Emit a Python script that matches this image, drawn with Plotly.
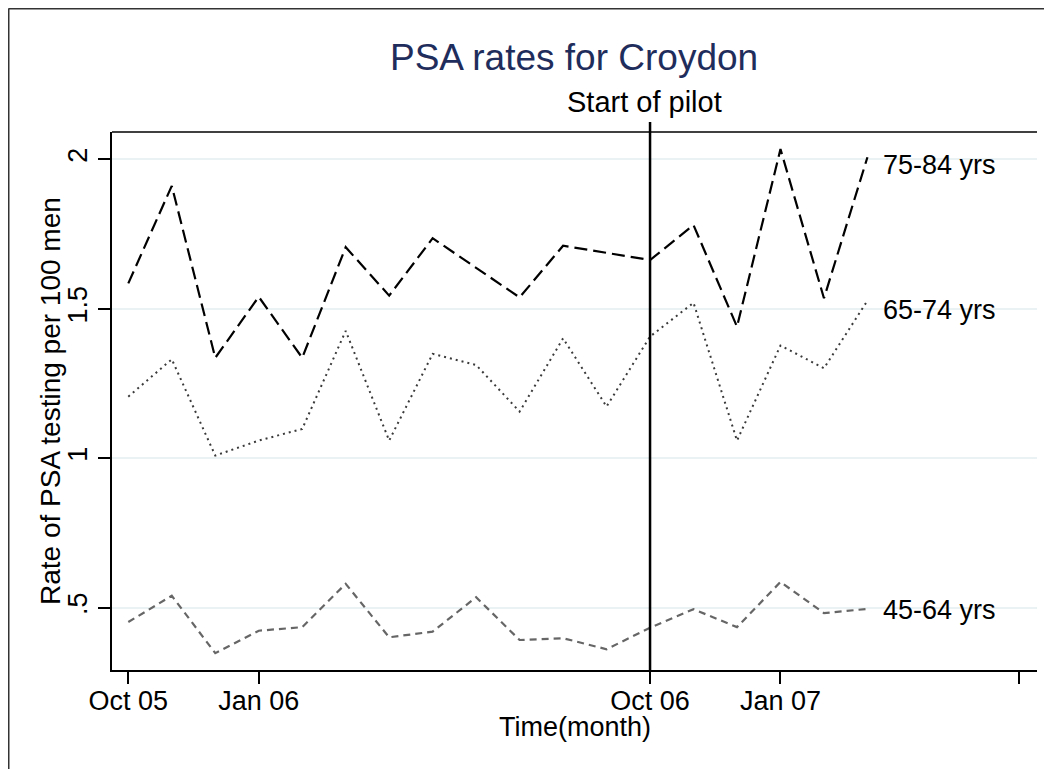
import plotly.graph_objects as go

month_labels = ["Oct 05", "Nov 05", "Dec 05", "Jan 06", "Feb 06", "Mar 06", "Apr 06", "May 06",
                "Jun 06", "Jul 06", "Aug 06", "Sep 06", "Oct 06", "Nov 06", "Dec 06", "Jan 07",
                "Feb 07", "Mar 07"]
r75_84 = [1.585, 1.911, 1.336, 1.540, 1.336, 1.706, 1.544, 1.736, 1.637, 1.538, 1.711, 1.687,
          1.663, 1.780, 1.440, 2.034, 1.535, 2.007]
r65_74 = [1.206, 1.331, 1.009, 1.059, 1.098, 1.426, 1.059, 1.349, 1.312, 1.156, 1.401, 1.173,
          1.407, 1.520, 1.059, 1.377, 1.301, 1.527]
r45_64 = [0.452, 0.540, 0.348, 0.423, 0.435, 0.580, 0.401, 0.420, 0.535, 0.392, 0.398, 0.361,
          0.433, 0.495, 0.435, 0.586, 0.482, 0.496]
series_names = ["75-84 yrs", "65-74 yrs", "45-64 yrs"]
x_tick_vals = [0, 3, 12, 15, 20.49]
x_tick_text = ["Oct 05", "Jan 06", "Oct 06", "Jan 07", ""]
y_tick_vals = [0.5, 1, 1.5, 2]
y_tick_text = [".5", "1", "1.5", "2"]
pilot_month = 12

x = list(range(len(month_labels)))
FONT = "Arial, Liberation Sans, sans-serif"

fig = go.Figure()
fig.add_trace(go.Scatter(x=x, y=r75_84, mode="lines", name=series_names[0],
                         line=dict(color="black", width=2.2, dash="13px,6px")))
fig.add_trace(go.Scatter(x=x, y=r65_74, mode="lines", name=series_names[1],
                         line=dict(color="#3a3a3a", width=2, dash="2px,4px")))
fig.add_trace(go.Scatter(x=x, y=r45_64, mode="lines", name=series_names[2],
                         line=dict(color="#666666", width=2.2, dash="7px,5px")))

# page is offset by the 8px body margin
OFF = 8
W, H = 1044, 761
L, R, T, B = 104, 15, 124, 99
pw, ph = W - L - R, H - T - B

def px2paper_x(px):
    return (px - OFF - L) / pw

def px2paper_y(py):
    return (H - B - (py - OFF)) / ph

shapes = [
    dict(type="line", xref="paper", yref="paper", x0=0, x1=1, y0=1, y1=1,
         line=dict(color="black", width=1.5)),
    dict(type="line", xref="x", yref="paper", x0=pilot_month, x1=pilot_month,
         y0=0, y1=px2paper_y(122), line=dict(color="black", width=2.5)),
    dict(type="line", xref="paper", yref="paper", x0=px2paper_x(8.5), x1=px2paper_x(1070),
         y0=px2paper_y(8.5), y1=px2paper_y(8.5), line=dict(color="#333333", width=2)),
    dict(type="line", xref="paper", yref="paper", x0=px2paper_x(8.5), x1=px2paper_x(8.5),
         y0=px2paper_y(8.5), y1=px2paper_y(790), line=dict(color="#333333", width=2)),
]

annotations = [
    dict(text="PSA rates for Croydon", xref="paper", yref="paper", x=px2paper_x(574),
         y=px2paper_y(58), showarrow=False, xanchor="center", yanchor="middle",
         font=dict(family=FONT, size=37, color="#1F2D5C")),
    dict(text="Start of pilot", xref="x", yref="paper", x=pilot_month, xshift=-6,
         y=px2paper_y(102), showarrow=False, xanchor="center", yanchor="middle",
         font=dict(family=FONT, size=29, color="black")),
    dict(text="Time(month)", xref="paper", yref="paper", x=0.5, y=px2paper_y(727),
         showarrow=False, xanchor="center", yanchor="middle",
         font=dict(family=FONT, size=27, color="black")),
    dict(text="Rate of PSA testing per 100 men", xref="paper", yref="paper",
         x=px2paper_x(50), y=0.5, textangle=-90, showarrow=False,
         xanchor="center", yanchor="middle", font=dict(family=FONT, size=28, color="black")),
]
label_y = [1.98, 1.497, 0.493]
for name, yv in zip(series_names, label_y):
    annotations.append(dict(text=name, xref="x", yref="y", x=17.31, y=yv, showarrow=False,
                            xanchor="left", yanchor="middle",
                            font=dict(family=FONT, size=27, color="black")))

fig.update_layout(
    width=W, height=H, margin=dict(l=L, r=R, t=T, b=B, autoexpand=False),
    paper_bgcolor="white", plot_bgcolor="white", showlegend=False,
    font=dict(family=FONT, size=27, color="black"),
    shapes=shapes, annotations=annotations,
)
fig.update_xaxes(range=[-0.375, 20.90], tickvals=x_tick_vals, ticktext=x_tick_text,
                 showgrid=False, zeroline=False, showline=True, linecolor="black", linewidth=1.5,
                 ticks="outside", ticklen=12, tickwidth=1.5, tickcolor="black",
                 ticklabelstandoff=-6,
                 tickfont=dict(family=FONT, size=27, color="black"))
fig.update_yaxes(range=[0.2916, 2.0913], tickvals=y_tick_vals, ticktext=y_tick_text,
                 showgrid=True, gridcolor="#EAF2F3", gridwidth=2, zeroline=False,
                 showline=True, linecolor="black", linewidth=1.5,
                 ticks="outside", ticklen=12, tickwidth=1.5, tickcolor="black", tickangle=-90,
                 tickfont=dict(family=FONT, size=27, color="black"))

fig.write_html("out.html")
